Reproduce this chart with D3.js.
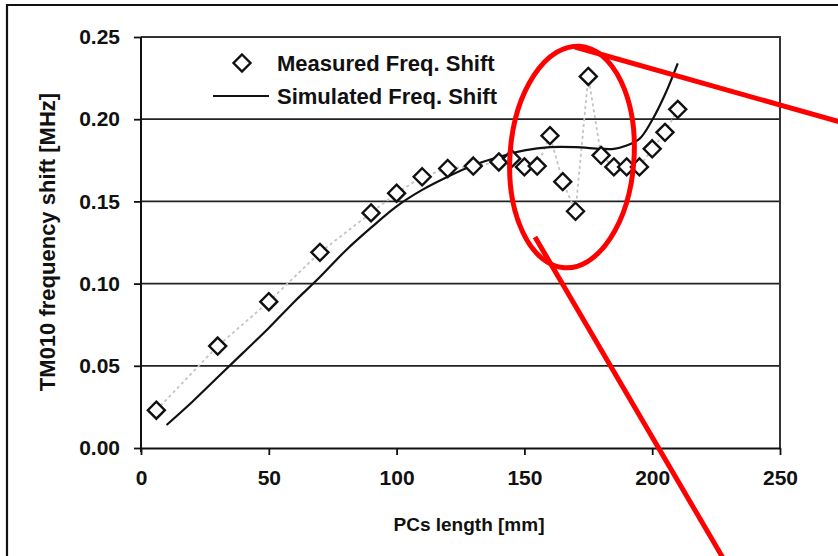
<!DOCTYPE html>
<html>
<head>
<meta charset="utf-8">
<script src="https://cdn.jsdelivr.net/npm/d3@7/dist/d3.min.js"></script>
<style>
  html, body { margin: 0; padding: 0; background: #fff; }
  svg { display: block; }
  text { font-family: "Liberation Sans", Arial, Helvetica, sans-serif; font-weight: bold; fill: #111; }
</style>
</head>
<body>
<svg id="chart" width="838" height="556"></svg>
<script>
// ---- data ----
const measuredX = [6, 30, 50, 70, 90, 100, 110, 120, 130, 140, 145, 150, 155, 160, 165, 170, 175, 180, 185, 190, 195, 200, 205, 210];
const measuredY = [0.023, 0.062, 0.089, 0.119, 0.143, 0.155, 0.165, 0.170, 0.1715, 0.174, 0.176, 0.171, 0.1715, 0.190, 0.162, 0.144, 0.226, 0.178, 0.171, 0.171, 0.171, 0.182, 0.192, 0.206];
const simX = [10, 20, 30, 40, 50, 60, 70, 80, 90, 100, 110, 120, 130, 140, 150, 160, 170, 180, 185, 190, 195, 200, 205, 210];
const simY = [0.014, 0.028, 0.043, 0.058, 0.073, 0.089, 0.104, 0.120, 0.134, 0.147, 0.157, 0.165, 0.172, 0.177, 0.181, 0.183, 0.183, 0.182, 0.182, 0.184, 0.188, 0.1995, 0.215, 0.234];
const xTicks = [0, 50, 100, 150, 200, 250];
const yTicks = [0.00, 0.05, 0.10, 0.15, 0.20, 0.25];
const seriesNames = ["Measured Freq. Shift", "Simulated Freq. Shift"];
const xTitle = "PCs length [mm]";
const yTitle = "TM010 frequency shift [MHz]";

const svg = d3.select("#chart");
const pL = 141, pR = 780, pT = 37, pB = 448;
const x = d3.scaleLinear().domain([0, 250]).range([pL, pR]);
const y = d3.scaleLinear().domain([0, 0.25]).range([pB, pT]);

// outer frame
svg.append("path")
  .attr("d", "M7,556 L7,5 L838,5")
  .attr("fill", "none").attr("stroke", "#111").attr("stroke-width", 2.2);

// gridlines
svg.append("g").selectAll("line")
  .data(yTicks.filter(t => t > 0 && t < 0.25))
  .join("line")
  .attr("x1", pL).attr("x2", pR)
  .attr("y1", d => y(d)).attr("y2", d => y(d))
  .attr("stroke", "#222").attr("stroke-width", 1.8);

// plot frame top & right
svg.append("path")
  .attr("d", `M${pL},${y(0.25)} L${pR},${y(0.25)} L${pR},${y(0)}`)
  .attr("fill", "none").attr("stroke", "#333").attr("stroke-width", 2);

// axes
const xAxis = d3.axisBottom(x).tickValues(xTicks).tickFormat(d3.format("d")).tickSize(7).tickPadding(15).tickSizeOuter(0);
const yAxis = d3.axisLeft(y).tickValues(yTicks).tickFormat(d3.format(".2f")).tickSize(7).tickPadding(14).tickSizeOuter(0);

const gx = svg.append("g").attr("transform", `translate(0,${pB})`).call(xAxis);
const gy = svg.append("g").attr("transform", `translate(${pL},0)`).call(yAxis);
[gx, gy].forEach(g => {
  g.select(".domain").attr("stroke", "#111").attr("stroke-width", 2);
  g.selectAll(".tick line").attr("stroke", "#111").attr("stroke-width", 1.8);
  g.selectAll(".tick text").attr("font-size", 21).attr("font-weight", "bold")
    .attr("font-family", '"Liberation Sans", Arial, sans-serif').attr("fill", "#111");
});
gy.select(".domain").attr("d", `M0,${pT} V${pB + 4}`);

// axis titles
svg.append("text")
  .attr("x", 469).attr("y", 531)
  .attr("text-anchor", "middle").attr("font-size", 19).text(xTitle);
svg.append("text")
  .attr("transform", `translate(55,242) rotate(-90)`)
  .attr("text-anchor", "middle").attr("font-size", 22).text(yTitle);

// measured: dashed connector
const meas = measuredX.map((d, i) => [d, measuredY[i]]);
svg.append("path")
  .datum(meas)
  .attr("d", d3.line().x(d => x(d[0])).y(d => y(d[1])))
  .attr("fill", "none").attr("stroke", "#c4c4c4").attr("stroke-width", 1.8)
  .attr("stroke-dasharray", "3,3");

// simulated curve
const sim = simX.map((d, i) => [d, simY[i]]);
svg.append("path")
  .datum(sim)
  .attr("d", d3.line().x(d => x(d[0])).y(d => y(d[1])).curve(d3.curveCatmullRom.alpha(0.5)))
  .attr("fill", "none").attr("stroke", "#111").attr("stroke-width", 2.2);

// diamonds
const diamond = "M0,-8.5 L8.5,0 L0,8.5 L-8.5,0 Z";
svg.append("g").selectAll("path")
  .data(meas)
  .join("path")
  .attr("transform", d => `translate(${x(d[0])},${y(d[1])})`)
  .attr("d", diamond)
  .attr("fill", "#fff").attr("stroke", "#111").attr("stroke-width", 2.4);

// legend
const lg = svg.append("g");
lg.append("path").attr("transform", "translate(242,63)").attr("d", diamond)
  .attr("fill", "#fff").attr("stroke", "#111").attr("stroke-width", 2.4);
lg.append("text").attr("x", 277).attr("y", 71).attr("font-size", 22).text(seriesNames[0]);
lg.append("line").attr("x1", 213).attr("x2", 269).attr("y1", 96).attr("y2", 96)
  .attr("stroke", "#111").attr("stroke-width", 2.2);
lg.append("text").attr("x", 277).attr("y", 104).attr("font-size", 22).text(seriesNames[1]);

// red annotation
const red = svg.append("g").attr("fill", "none").attr("stroke", "#f00").attr("stroke-width", 5);
red.append("ellipse").attr("cx", 572).attr("cy", 157).attr("rx", 62).attr("ry", 111)
  .attr("transform", "rotate(4,572,157)");
red.append("line").attr("x1", 575).attr("y1", 47).attr("x2", 840).attr("y2", 122);
red.append("line").attr("x1", 535).attr("y1", 237).attr("x2", 723).attr("y2", 558);
</script>
</body>
</html>
